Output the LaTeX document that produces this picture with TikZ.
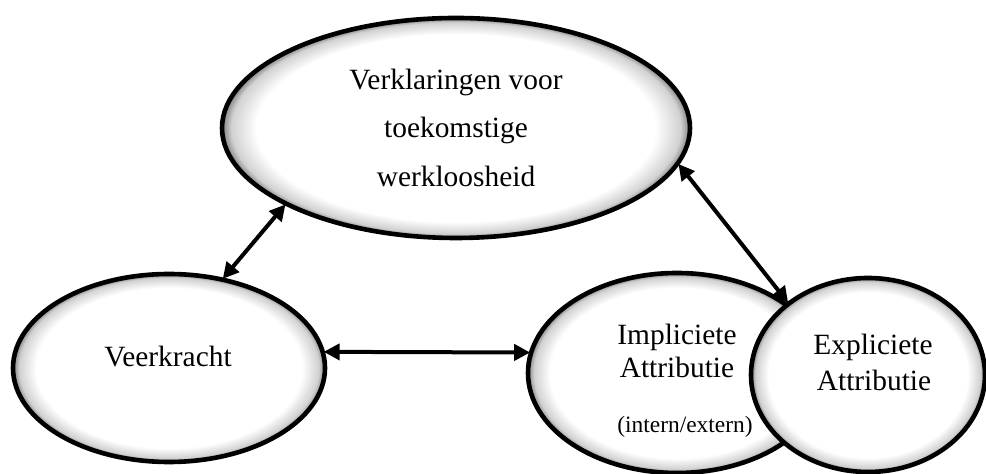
\documentclass[tikz,border=0pt]{standalone}
\usepackage{fontspec}
\setmainfont{Liberation Serif}
\usetikzlibrary{shapes.geometric,arrows.meta}
\pgfdeclareradialshading{glow}{\pgfpoint{0bp}{0bp}}{color(0bp)=(white); color(21.3bp)=(white); color(24bp)=(black!18); color(25bp)=(black!50); color(50bp)=(black!50)}
\tikzset{
  bubble/.style={ellipse, draw=black, line width=2.3pt, shading=glow, inner sep=0pt, outer sep=0pt},
  lbl/.style={anchor=base, inner sep=0pt, font=\fontsize{14.7}{17}\selectfont},
  small/.style={anchor=base, inner sep=0pt, font=\fontsize{11.7}{14}\selectfont},
  link/.style={line width=2pt, {Triangle[length=8pt,width=8pt]}-{Triangle[length=8pt,width=8pt]}, shorten <=0.5pt, shorten >=0.5pt}
}
\begin{document}
\begin{tikzpicture}[x=0.5pt,y=-0.5pt]
\useasboundingbox (0,0) rectangle (986,474);
% ellipses
\node[bubble, minimum width=234pt, minimum height=110pt] (top) at (456,128) {};
\node[bubble, minimum width=156pt, minimum height=94pt] (veer) at (169,368) {};
\node[bubble, minimum width=149pt, minimum height=100pt] (impl) at (677,373) {};
\node[bubble, minimum width=117pt, minimum height=97pt] (expl) at (868,375) {};
% texts
\node[lbl] (t1) at (456,90) {Verklaringen voor};
\node[lbl] (t2) at (456,138) {toekomstige};
\node[lbl] (t3) at (456,187) {werkloosheid};
\node[lbl] (v1) at (168,367) {Veerkracht};
\node[lbl] (i1) at (677,345) {Impliciete};
\node[lbl] (i2) at (677,378) {Attributie};
\node[small] (i3) at (685,433) {(intern/extern)};
\node[lbl] (e1) at (873,355) {Expliciete};
\node[lbl] (e2) at (874,391) {Attributie};
% connectors
\draw[link] (top.204) -- (veer.59);
\draw[link] (veer.6) -- (impl.172);
\draw[link] (top.351.4) -- (expl.138.4);
\end{tikzpicture}
\end{document}
